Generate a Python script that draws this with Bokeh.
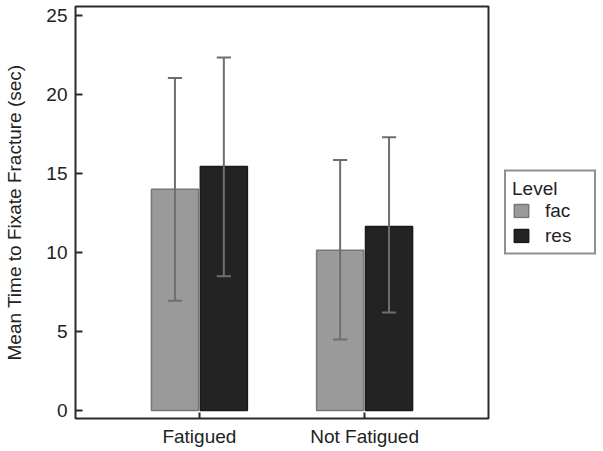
from bokeh.plotting import figure
from bokeh.models import FactorRange, Range1d, ColumnDataSource, Legend, LegendItem
from bokeh.transform import dodge
from bokeh.embed import file_html
from bokeh.resources import INLINE

# Data
groups = ["Fatigued", "Not Fatigued"]
levels = ["fac", "res"]
fac_mean = [14.0, 10.15]
fac_lower = [6.95, 4.5]
fac_upper = [21.05, 15.85]
res_mean = [15.45, 11.65]
res_lower = [8.5, 6.2]
res_upper = [22.35, 17.3]

FONT = "Liberation Sans"
TXT = "#222222"
ERR = "#6e6e6e"

p = figure(
    x_range=FactorRange(factors=groups, range_padding=0.25, range_padding_units="absolute"),
    y_range=Range1d(-0.506, 25.57),
    frame_width=413, frame_height=412,
    min_border_left=75, min_border_right=112, min_border_top=6, min_border_bottom=33,
    output_backend="svg", toolbar_location=None,
)
p.background_fill_color = "white"
p.border_fill_color = "white"
p.outline_line_color = "#2a2a2a"
p.outline_line_width = 2
p.grid.visible = False

src_fac = ColumnDataSource(dict(group=groups, top=fac_mean, lo=fac_lower, hi=fac_upper))
src_res = ColumnDataSource(dict(group=groups, top=res_mean, lo=res_lower, hi=res_upper))

OFF = 0.148
BW = 0.285
CAP = 0.043

r_fac = p.vbar(x=dodge("group", -OFF, range=p.x_range), top="top", bottom=0, width=BW,
               source=src_fac, fill_color="#9a9a9a", line_color="#777777", line_width=1.5)
r_res = p.vbar(x=dodge("group", OFF, range=p.x_range), top="top", bottom=0, width=BW,
               source=src_res, fill_color="#232323", line_color="#1a1a1a", line_width=1.5)

for src, off in ((src_fac, -OFF), (src_res, OFF)):
    p.segment(x0=dodge("group", off, range=p.x_range), y0="lo",
              x1=dodge("group", off, range=p.x_range), y1="hi",
              source=src, line_color=ERR, line_width=2)
    for col in ("lo", "hi"):
        p.segment(x0=dodge("group", off - CAP, range=p.x_range), y0=col,
                  x1=dodge("group", off + CAP, range=p.x_range), y1=col,
                  source=src, line_color=ERR, line_width=2)

# axes
p.yaxis.axis_label = "Mean Time to Fixate Fracture (sec)"
p.yaxis.ticker = [0, 5, 10, 15, 20, 25]
for ax in (p.xaxis[0], p.yaxis[0]):
    ax.axis_line_color = None
    ax.major_tick_line_color = "#2a2a2a"
    ax.major_tick_line_width = 2
    ax.major_tick_out = 0
    ax.minor_tick_line_color = None
    ax.major_label_text_font = FONT
    ax.major_label_text_font_size = "19px"
    ax.major_label_text_color = TXT
    ax.axis_label_text_font = FONT
    ax.axis_label_text_font_size = "19px"
    ax.axis_label_text_font_style = "normal"
    ax.axis_label_text_color = TXT
p.yaxis.major_tick_in = 7
p.yaxis.major_label_standoff = 8
p.yaxis.axis_label_standoff = 18
p.xaxis.major_tick_in = 6
p.xaxis.major_label_standoff = 7

legend = Legend(
    items=[LegendItem(label=levels[0], renderers=[r_fac]),
           LegendItem(label=levels[1], renderers=[r_res])],
    title="Level", location="center_left",
)
legend.margin = 16
legend.padding = 6
legend.spacing = 3
legend.border_line_color = "#222222"
legend.border_line_width = 2
legend.title_text_font = FONT
legend.title_text_font_size = "19px"
legend.title_text_font_style = "normal"
legend.title_text_color = TXT
legend.title_standoff = 0
legend.label_text_font = FONT
legend.label_text_font_size = "19px"
legend.label_text_color = TXT
legend.label_standoff = 15
legend.label_width = 43
legend.glyph_width = 18
legend.glyph_height = 16
legend.label_height = 19
p.add_layout(legend, "right")

open("out.html", "w").write(file_html(p, INLINE))
